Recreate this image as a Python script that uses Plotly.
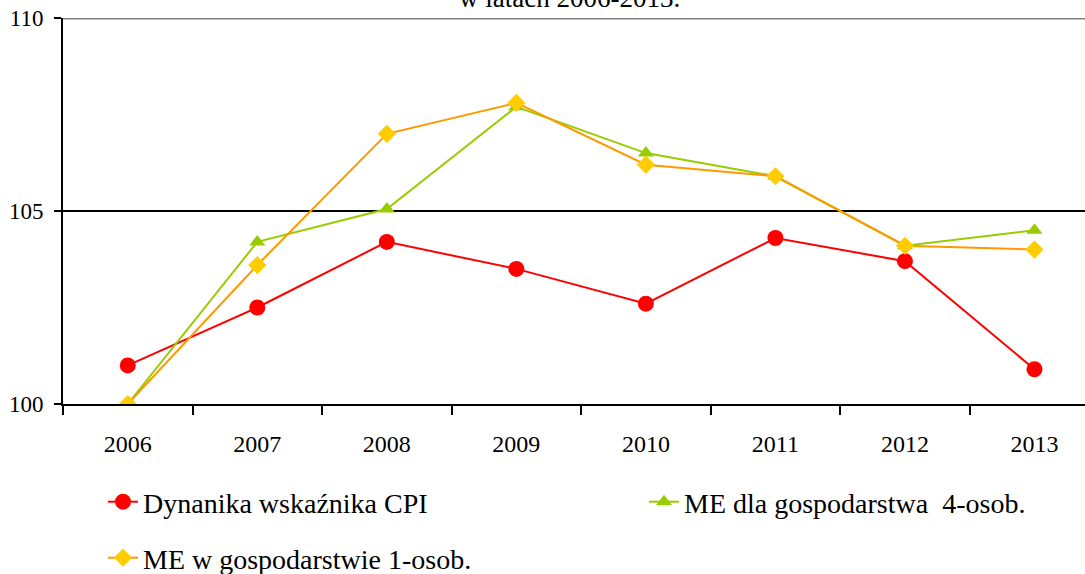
import plotly.graph_objects as go

years = ["2006", "2007", "2008", "2009", "2010", "2011", "2012", "2013"]
cpi = [101.0, 102.5, 104.2, 103.5, 102.6, 104.3, 103.7, 100.9]
me_4os = [100.0, 104.2, 105.05, 107.7, 106.5, 105.9, 104.1, 104.5]
me_1os = [100.0, 103.6, 107.0, 107.8, 106.2, 105.9, 104.1, 104.0]
y_ticks = [100, 105, 110]

FONT = "Times New Roman"

fig = go.Figure()
fig.add_trace(go.Scatter(
    x=years, y=cpi, name="Dynanika wskaźnika CPI", mode="lines+markers",
    line=dict(color="#FF0000", width=2),
    marker=dict(symbol="circle", size=16, color="#FF0000"),
    legend="legend"))
fig.add_trace(go.Scatter(
    x=years, y=me_4os, name="ME dla gospodarstwa  4-osob.", mode="lines+markers",
    line=dict(color="#99CC00", width=2),
    marker=dict(symbol="triangle-up", size=14, color="#99CC00"),
    legend="legend2"))
fig.add_trace(go.Scatter(
    x=years, y=me_1os, name="ME w gospodarstwie 1-osob.", mode="lines+markers",
    line=dict(color="#FF9900", width=2),
    marker=dict(symbol="diamond", size=14, color="#FFCC00"),
    legend="legend3"))

fig.add_shape(type="line", xref="paper", yref="y", x0=0, x1=1, y0=110, y1=110,
              line=dict(color="#808080", width=3), layer="below")

fig.add_annotation(text="w latach 2006-2013.", xref="paper", yref="paper",
                   x=(569 - 63) / 1022, y=1 + 20 / 386, xanchor="center", yanchor="middle",
                   showarrow=False, font=dict(family=FONT, size=27, color="black"))

leg_common = dict(orientation="h", xanchor="left", yanchor="middle",
                  font=dict(family=FONT, size=28, color="black"),
                  bgcolor="rgba(0,0,0,0)")

fig.update_layout(
    width=1085, height=574,
    margin=dict(l=63, r=0, t=18, b=170, autoexpand=False),
    paper_bgcolor="white", plot_bgcolor="white",
    font=dict(family=FONT, size=23, color="black"),
    showlegend=True,
    legend=dict(x=(103 - 63) / 1022, y=-(502 - 404) / 386, **leg_common),
    legend2=dict(x=(644 - 63) / 1022, y=-(502 - 404) / 386, **leg_common),
    legend3=dict(x=(103 - 63) / 1022, y=-(558 - 404) / 386, **leg_common),
)
fig.update_xaxes(type="category", range=[-0.5, 7.39], showline=True, linecolor="black",
                 linewidth=2, ticks="outside", tickson="boundaries", ticklen=9,
                 tickcolor="black", tickwidth=2, showgrid=False, automargin=False,
                 tickfont=dict(family=FONT, size=24), ticklabelstandoff=17)
fig.update_yaxes(range=[100, 110], tickvals=y_ticks, showline=True, linecolor="black",
                 linewidth=2, ticks="outside", ticklen=7, tickcolor="black", tickwidth=2,
                 showgrid=True, gridcolor="black", gridwidth=2, zeroline=False,
                 automargin=False,
                 tickfont=dict(family=FONT, size=23), ticklabelstandoff=6)

fig.write_html("out.html", config={"displayModeBar": False},
               post_script="document.body.style.margin='0';document.body.style.padding='0';")
